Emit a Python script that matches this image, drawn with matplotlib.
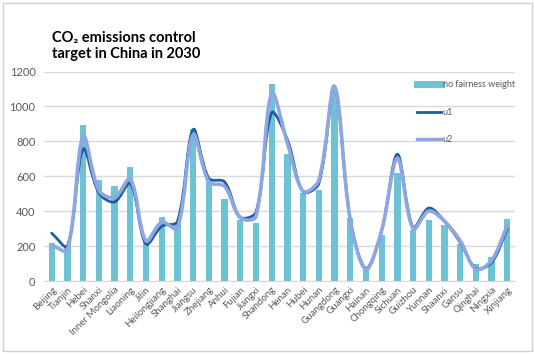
import numpy as np
import matplotlib
matplotlib.use("Agg")
import matplotlib.pyplot as plt
from matplotlib.path import Path
from matplotlib.patches import PathPatch, Rectangle
from matplotlib.lines import Line2D

plt.rcParams['font.family'] = ['Lato', 'DejaVu Sans']

# provinces and values
provinces = ['Beijing', 'Tianjin', 'Hebei', 'Shanxi', 'Inner Mongolia', 'Liaoning', 'Jilin',
             'Heilongjiang', 'Shanghai', 'Jiangsu', 'Zhejiang', 'Anhui', 'Fujian', 'Jiangxi',
             'Shandong', 'Henan', 'Hubei', 'Hunan', 'Guangdong', 'Guangxi', 'Hainan',
             'Chongqing', 'Sichuan', 'Guizhou', 'Yunnan', 'Shaanxi', 'Gansu', 'Qinghai',
             'Ningxia', 'Xinjiang']
no_fairness = [216, 204, 896, 578, 545, 656, 230, 368, 330, 868, 578, 472, 351, 334,
               1131, 730, 503, 520, 1090, 362, 68, 265, 619, 292, 352, 323, 215, 98,
               136, 358]
u1 = [274, 200, 755, 505, 453, 559, 212, 314, 341, 867, 588, 568, 366, 395,
      963, 809, 511, 559, 1110, 350, 73, 290, 726, 308, 418, 343, 222, 73,
      106, 299]
u2 = [206, 177, 828, 520, 478, 584, 231, 337, 302, 838, 568, 543, 362, 370,
      1073, 790, 514, 578, 1115, 350, 67, 290, 703, 299, 401, 343, 231, 67,
      119, 318]

bar_color = '#6DC3D4'
u1_color = '#1F5E9E'
u2_color = '#8EA6E2'
text_gray = '#595959'


def smooth_path(xs, ys, sx=15.7, sy=0.174):
    # Excel-like smoothed line: cubic Beziers, tangents weighted by segment
    # lengths measured in (approximate) screen units
    pts = np.column_stack([xs, ys]).astype(float)
    ext = np.vstack([pts[0], pts, pts[-1]])
    scale = np.array([sx, sy])

    def dist(a, b):
        return np.hypot(*((b - a) * scale))

    verts = [pts[0]]
    codes = [Path.MOVETO]
    for i in range(len(pts) - 1):
        p0, p1, p2, p3 = ext[i], ext[i + 1], ext[i + 2], ext[i + 3]
        d01, d12, d23 = dist(p0, p1), dist(p1, p2), dist(p2, p3)
        f1 = d12 / (d01 + d12) / 3 if d01 + d12 > 0 else 0
        f2 = d12 / (d12 + d23) / 3 if d12 + d23 > 0 else 0
        verts += [p1 + (p2 - p0) * f1, p2 - (p3 - p1) * f2, p2]
        codes += [Path.CURVE4] * 3
    return Path(verts, codes)


fig = plt.figure(figsize=(5.35, 3.54), dpi=100)
fig.patches.append(Rectangle((0.006, 0.008), 0.988, 0.984, transform=fig.transFigure,
                             fill=False, edgecolor='#D0D0D0', linewidth=1))

ax = fig.add_axes([0.082, 0.206, 0.881, 0.592])
x = np.arange(len(provinces))

ax.bar(x, no_fairness, width=0.4, color=bar_color, zorder=2)
ax.add_patch(PathPatch(smooth_path(x, u1), fill=False, edgecolor=u1_color,
                       linewidth=2.0, zorder=3, capstyle='round'))
ax.add_patch(PathPatch(smooth_path(x, u2), fill=False, edgecolor=u2_color,
                       linewidth=2.6, zorder=4, capstyle='round'))

ax.set_xlim(-0.5, len(provinces) - 0.5)
ax.set_ylim(0, 1200)
ax.set_yticks(range(0, 1201, 200))
ax.yaxis.grid(True, color='#D9D9D9', linewidth=1, zorder=0)
ax.set_axisbelow(True)
for s in ['top', 'right', 'left']:
    ax.spines[s].set_visible(False)
ax.spines['bottom'].set_color('#D9D9D9')
ax.tick_params(length=0, colors=text_gray, labelsize=8)
ax.tick_params(axis='y', pad=6)
ax.tick_params(axis='x', pad=3)
ax.set_xticks(x)
ax.set_xticklabels(provinces, rotation=45, ha='right', rotation_mode='anchor',
                   fontsize=7, color=text_gray)

fig.text(0.097, 0.869, 'CO\u2082 emissions control\ntarget in China in 2030',
         fontsize=10.5, fontweight='bold', color='black', va='center', ha='left',
         linespacing=1.2)

handles = [Line2D([], [], color=bar_color, linewidth=5),
           Line2D([], [], color=u1_color, linewidth=2),
           Line2D([], [], color=u2_color, linewidth=2.5)]
leg = ax.legend(handles, ['no fairness weight', 'u1', 'u2'], loc='upper left',
                bbox_to_anchor=(0.785, 0.975), frameon=False, fontsize=6.5,
                labelspacing=2.05, handlelength=2.6, handletextpad=0.2,
                borderaxespad=0)
for t in leg.get_texts():
    t.set_color(text_gray)

fig.savefig('out.png', dpi=100)
